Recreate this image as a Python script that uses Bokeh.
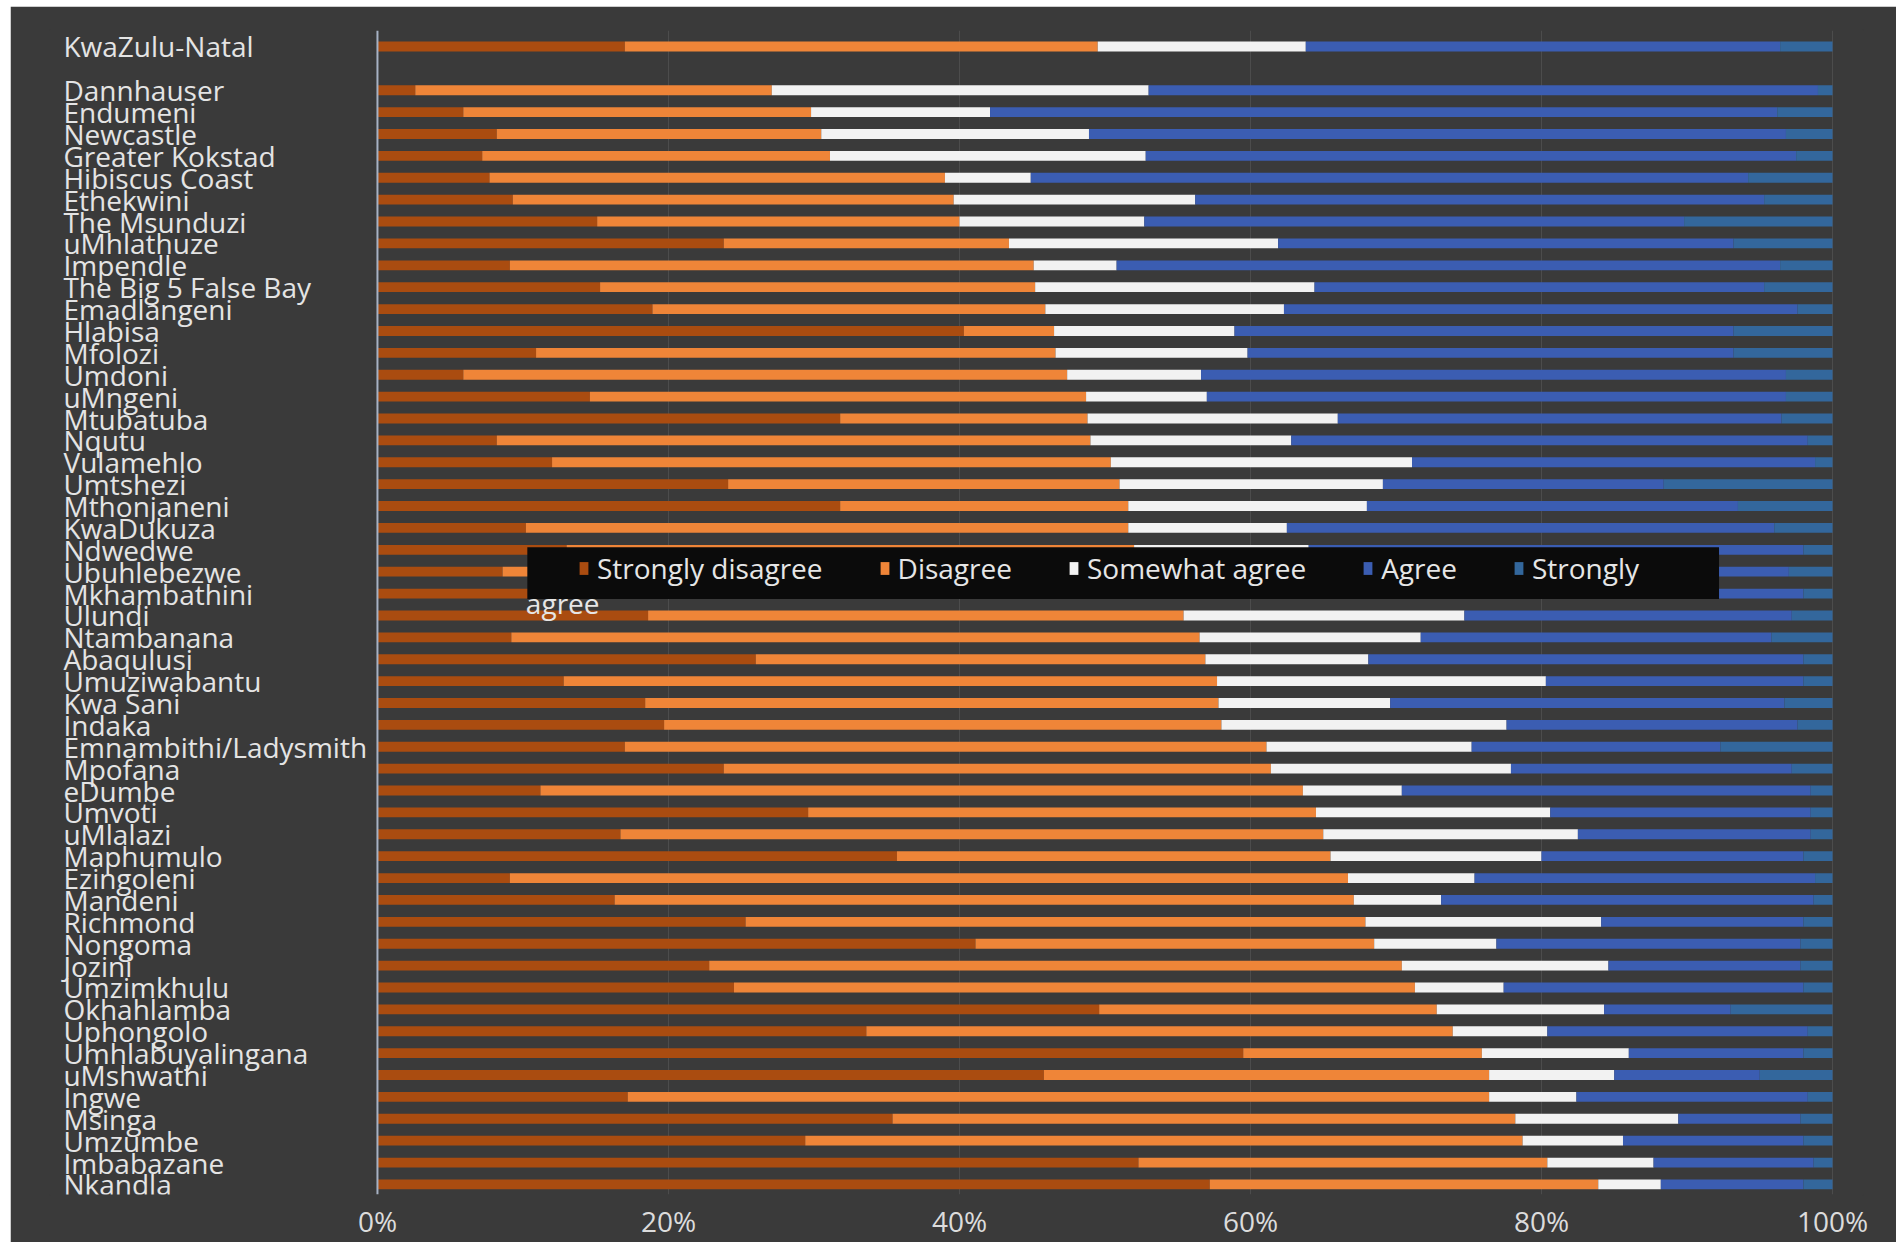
from bokeh.plotting import figure
from bokeh.models import (ColumnDataSource, Range1d, FixedTicker, PrintfTickFormatter,
                          Span, BoxAnnotation, Label, Legend, LegendItem)
from bokeh.core.properties import value
from bokeh.embed import file_html
from bokeh.resources import INLINE

areas = ["KwaZulu-Natal", "Dannhauser", "Endumeni", "Newcastle", "Greater Kokstad", "Hibiscus Coast",
         "Ethekwini", "The Msunduzi", "uMhlathuze", "Impendle", "The Big 5 False Bay", "Emadlangeni",
         "Hlabisa", "Mfolozi", "Umdoni", "uMngeni", "Mtubatuba", "Nqutu", "Vulamehlo", "Umtshezi",
         "Mthonjaneni", "KwaDukuza", "Ndwedwe", "Ubuhlebezwe", "Mkhambathini", "Ulundi", "Ntambanana",
         "Abaqulusi", "Umuziwabantu", "Kwa Sani", "Indaka", "Emnambithi/Ladysmith", "Mpofana", "eDumbe",
         "Umvoti", "uMlalazi", "Maphumulo", "Ezingoleni", "Mandeni", "Richmond", "Nongoma", "Jozini",
         "Umzimkhulu", "Okhahlamba", "Uphongolo", "Umhlabuyalingana", "uMshwathi", "Ingwe", "Msinga",
         "Umzumbe", "Imbabazane", "Nkandla"]

strongly_disagree = [17.0, 2.6, 5.9, 8.2, 7.2, 7.7, 9.3, 15.1, 23.8, 9.1, 15.3, 18.9, 40.3, 10.9, 5.9,
                     14.6, 31.8, 8.2, 12.0, 24.1, 31.8, 10.2, 13.0, 8.6, 14.0, 18.6, 9.2, 26.0, 12.8,
                     18.4, 19.7, 17.0, 23.8, 11.2, 29.6, 16.7, 35.7, 9.1, 16.3, 25.3, 41.1, 22.8, 24.5,
                     49.6, 33.6, 59.5, 45.8, 17.2, 35.4, 29.4, 52.3, 57.2]
disagree = [32.5, 24.5, 23.9, 22.3, 23.9, 31.3, 30.3, 24.9, 19.6, 36.0, 29.9, 27.0, 6.2, 35.7, 41.5,
            34.1, 17.0, 40.8, 38.4, 26.9, 19.8, 41.4, 39.0, 44.0, 39.5, 36.8, 47.3, 30.9, 44.9, 39.4,
            38.3, 44.1, 37.6, 52.4, 34.9, 48.3, 29.8, 57.6, 50.8, 42.6, 27.4, 47.6, 46.8, 23.2, 40.3,
            16.4, 30.6, 59.2, 42.8, 49.3, 28.1, 26.7]
somewhat_agree = [14.3, 25.9, 12.3, 18.4, 21.7, 5.9, 16.6, 12.7, 18.5, 5.7, 19.2, 16.4, 12.4, 13.2, 9.2,
                  8.3, 17.2, 13.8, 20.7, 18.1, 16.4, 10.9, 12.0, 14.0, 13.5, 19.3, 15.2, 11.2, 22.6,
                  11.8, 19.6, 14.1, 16.5, 6.8, 16.1, 17.5, 14.5, 8.7, 6.0, 16.2, 8.4, 14.2, 6.1, 11.5,
                  6.5, 10.1, 8.6, 6.0, 11.2, 6.9, 7.3, 4.3]
agree = [32.6, 46.0, 54.1, 47.9, 44.7, 49.3, 39.1, 37.1, 31.3, 45.6, 30.9, 35.3, 34.3, 33.4, 40.2, 39.8,
         30.5, 35.5, 27.7, 19.3, 25.5, 33.5, 34.0, 30.4, 31.0, 22.5, 24.1, 29.9, 17.7, 27.1, 20.0, 17.1,
         19.3, 28.1, 17.9, 16.0, 18.0, 23.4, 25.6, 13.9, 20.9, 13.2, 20.6, 8.7, 17.9, 12.0, 10.0, 15.9,
         8.4, 12.4, 11.0, 9.8]
strongly_agree = [3.6, 1.0, 3.8, 3.2, 2.5, 5.8, 4.7, 10.2, 6.8, 3.6, 4.7, 2.4, 6.8, 6.8, 3.2, 3.2, 3.5,
                  1.7, 1.2, 11.6, 6.5, 4.0, 2.0, 3.0, 2.0, 2.8, 4.2, 2.0, 2.0, 3.3, 2.4, 7.7, 2.8, 1.5,
                  1.5, 1.5, 2.0, 1.2, 1.3, 2.0, 2.2, 2.2, 2.0, 7.0, 1.7, 2.0, 5.0, 1.7, 2.2, 2.0, 1.3,
                  2.0]

series_keys = ["sd", "d", "sa", "a", "sta"]
legend_labels = ["Strongly disagree", "Disagree", "Somewhat agree", "Agree", "Strongly"]
colors = ["#aa4c10", "#ef8538", "#f2f2f2", "#3b5db2", "#33679c"]

# row positions: KwaZulu-Natal on top, one empty row, then municipalities
rows = [0] + list(range(2, len(areas) + 1))

src = ColumnDataSource(dict(
    y=rows, name=areas,
    sd=strongly_disagree, d=disagree, sa=somewhat_agree, a=agree, sta=strongly_agree,
))

FONT = "Open Sans"
FS = "28px"
BG = "#3a3a3a"

p = figure(width=1886, height=1236, output_backend="svg", toolbar_location=None,
           x_range=Range1d(-22.47, 102.06), y_range=Range1d(52.46, -0.73),
           min_border_left=40, min_border_right=34, min_border_top=24, min_border_bottom=40)
p.margin = (6, 0, 0, 10)

p.background_fill_color = BG
p.border_fill_color = BG
p.outline_line_color = BG
p.outline_line_width = 3

renderers = p.hbar_stack(series_keys, y="y", height=0.45, color=colors, source=src, line_width=0)

# category labels (left-aligned as in the reference)
p.text(x=-21.58, y="y", text="name", source=src, text_font=value(FONT), text_font_size=FS,
       text_color="#e4e4e4", text_align="left", text_baseline="middle")

p.yaxis.visible = False
p.ygrid.visible = False
p.xgrid.ticker = FixedTicker(ticks=[20, 40, 60, 80, 100])
p.xgrid.grid_line_color = "#4c4c4c"
p.xaxis.ticker = FixedTicker(ticks=[0, 20, 40, 60, 80, 100])
p.xaxis.formatter = PrintfTickFormatter(format="%d%%")
p.xaxis.axis_line_color = None
p.xaxis.major_tick_line_color = None
p.xaxis.minor_tick_line_color = None
p.xaxis.major_tick_out = 0
p.xaxis.major_tick_in = 0
p.xaxis.major_label_standoff = 7
p.xaxis.major_label_text_font = FONT
p.xaxis.major_label_text_font_size = FS
p.xaxis.major_label_text_color = "#dcdcdc"

p.add_layout(Span(location=0, dimension="height", line_color="#a7b2c4", line_width=2))

# legend box (black) overlapping the bars, as in the reference
p.add_layout(BoxAnnotation(left=10.3, right=92.2, top=22.88, bottom=25.25,
                           fill_color="#0b0b0b", fill_alpha=1.0, line_color=None, level="overlay"))

legend = Legend(items=[LegendItem(label=l, renderers=[r]) for l, r in zip(legend_labels, renderers)],
                orientation="horizontal", location=(524, 603), padding=4, margin=0, spacing=56,
                label_standoff=8, glyph_width=11, glyph_height=16,
                background_fill_alpha=0, border_line_alpha=0,
                label_text_font=FONT, label_text_font_size=FS, label_text_color="#e6e6e6")
p.add_layout(legend)

p.add_layout(Label(x=10.2, y=25.45, text="agree", text_font=FONT, text_font_size=FS,
                   text_color="#e6e6e6", text_baseline="middle", level="overlay"))

open("out.html", "w").write(file_html(p, INLINE))
